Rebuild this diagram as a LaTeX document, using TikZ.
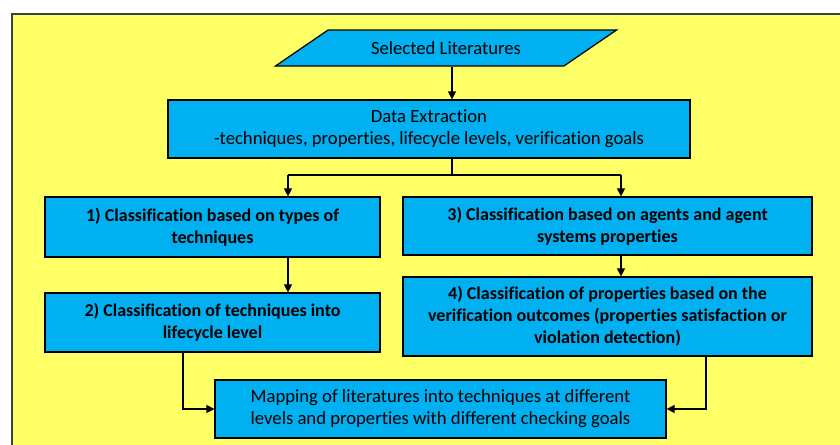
\documentclass[tikz,border=0pt]{standalone}
\usepackage{fontspec}
\setmainfont{Carlito}[Ligatures=NoCommon]
\usetikzlibrary{arrows.meta,shapes.geometric}
\definecolor{bgyellow}{RGB}{255,255,102}
\definecolor{boxblue}{RGB}{0,176,240}
\begin{document}
\begin{tikzpicture}[x=0.75pt,y=-0.75pt,
  box/.style={draw=black,line width=0.9pt,fill=boxblue,rectangle,align=center,
    inner sep=2pt,font=\fontsize{14}{16.5}\selectfont},
  boldbox/.style={box,font=\fontsize{13.5}{16.5}\selectfont\bfseries},
  arr/.style={draw=black,line width=0.9pt,-{Triangle[length=6pt,width=6pt]}},
  conn/.style={draw=black,line width=0.9pt}]
\useasboundingbox (0,0) rectangle (840,444);
% background panel
\fill[bgyellow] (12,14) rectangle (845,450);
\draw[line width=1.4pt,draw=black!75] (12,450) -- (12,14) -- (845,14);
% nodes
\node[box,trapezium,trapezium left angle=28,trapezium right angle=152,
  trapezium stretches=true,minimum width=256.5pt,minimum height=27pt] (sel) at (446,48) {Selected Literatures};
\node[box,minimum width=391.5pt,minimum height=43.5pt] (ext) at (429,129)
  {Data Extraction\\-techniques, properties, lifecycle levels, verification goals};
\node[boldbox,minimum width=251.25pt,minimum height=45pt] (b1) at (212.5,227)
  {1) Classification based on types of\\techniques};
\node[boldbox,minimum width=306.75pt,minimum height=43.5pt] (b3) at (607.5,226)
  {3) Classification based on agents and agent\\systems properties};
\node[boldbox,minimum width=251.25pt,minimum height=44.25pt] (b2) at (212.5,322.5)
  {2) Classification of techniques into\\lifecycle level};
\node[boldbox,minimum width=306.75pt,minimum height=59.25pt] (b4) at (607.5,316.5)
  {4) Classification of properties based on the\\verification outcomes (properties satisfaction or\\violation detection)};
\node[box,minimum width=338.25pt,minimum height=43.5pt] (b5) at (440.5,409)
  {Mapping of literatures into techniques at different\\levels and properties with different checking goals};
% junction coordinates
\coordinate (j) at (452,175);
\coordinate (c1) at (288,175);
\coordinate (c3) at (621,175);
\coordinate (c2) at (183,412);
\coordinate (c4) at (706,412);
% connectors
\draw[arr] (sel.south -| j) -- (ext.north -| j);
\draw[conn] (ext.south -| j) -- (j);
\draw[conn] (c1) -- (c3);
\draw[arr] (c1) -- (c1 |- b1.north);
\draw[arr] (c3) -- (c3 |- b3.north);
\draw[arr] (c1 |- b1.south) -- (c1 |- b2.north);
\draw[arr] (c3 |- b3.south) -- (c3 |- b4.north);
\draw[arr] (c2 |- b2.south) |- (b5.west);
\draw[arr] (c4 |- b4.south) |- (b5.east);
\end{tikzpicture}
\end{document}
